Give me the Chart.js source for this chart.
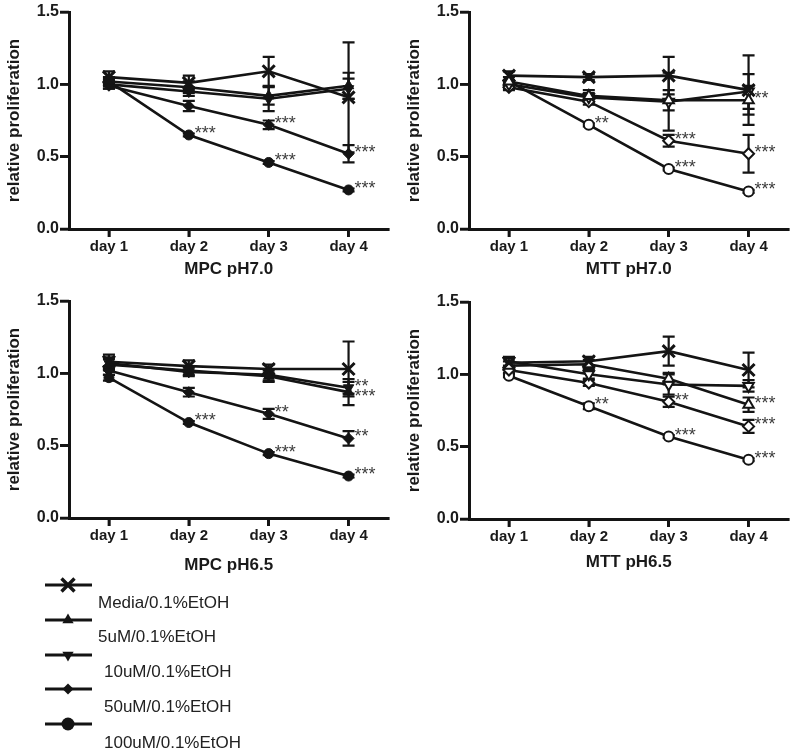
<!DOCTYPE html>
<html><head><meta charset="utf-8">
<script src="https://cdn.jsdelivr.net/npm/chart.js@4/dist/chart.umd.min.js"></script>
<style>
html,body{margin:0;padding:0;background:#fff;}
#wrap{position:relative;width:800px;height:753px;overflow:hidden;background:#fff;}
.panel{position:absolute;width:400px;height:290px;}
.leg{position:absolute;font-family:'Liberation Sans',Arial,sans-serif;font-size:17px;color:#222;white-space:nowrap;line-height:1;}
</style></head><body>
<div id="wrap">
  <div class="panel" style="left:0;top:0"><canvas id="c1" width="400" height="290"></canvas></div>
  <div class="panel" style="left:400px;top:0"><canvas id="c2" width="400" height="290"></canvas></div>
  <div class="panel" style="left:0;top:289px"><canvas id="c3" width="400" height="290"></canvas></div>
  <div class="panel" style="left:400px;top:290px"><canvas id="c4" width="400" height="290"></canvas></div>
  <canvas id="legc" width="140" height="170" style="position:absolute;left:0;top:570px"></canvas>
  <div id="legtext"></div>
</div>
<script>
// ---------- data ----------
const days = ['day 1', 'day 2', 'day 3', 'day 4'];
const seriesNames = ['Media/0.1%EtOH', '5uM/0.1%EtOH', '10uM/0.1%EtOH', '50uM/0.1%EtOH', '100uM/0.1%EtOH'];
const yTickValues = [0, 0.5, 1.0, 1.5];
const panelTitles = ['MPC pH7.0', 'MTT pH7.0', 'MPC pH6.5', 'MTT pH6.5'];
const yAxisTitle = 'relative proliferation';

// MPC pH7.0
const mpc70_media = [1.05, 1.01, 1.09, 0.91];
const mpc70_5uM   = [1.02, 0.98, 0.92, 0.99];
const mpc70_10uM  = [1.00, 0.95, 0.90, 0.97];
const mpc70_50uM  = [0.99, 0.85, 0.72, 0.52];
const mpc70_100uM = [1.02, 0.65, 0.46, 0.27];
const mpc70_err_media = [0.04, 0.05, 0.10, 0.38];
const mpc70_err_5uM   = [0.03, 0.04, 0.06, 0.09];
const mpc70_err_10uM  = [0.03, 0.03, 0.085, 0.07];
const mpc70_err_50uM  = [0.02, 0.035, 0.03, 0.06];
const mpc70_err_100uM = [0.02, 0.01, 0.01, 0.01];
const mpc70_stars = [[1, 4, '***'], [2, 3, '***'], [2, 4, '***'], [3, 3, '***'], [3, 4, '***']];

// MTT pH7.0
const mtt70_media = [1.06, 1.05, 1.06, 0.96];
const mtt70_5uM   = [1.02, 0.92, 0.89, 0.89];
const mtt70_10uM  = [1.00, 0.91, 0.88, 0.95];
const mtt70_50uM  = [0.98, 0.88, 0.61, 0.52];
const mtt70_100uM = [1.02, 0.72, 0.415, 0.26];
const mtt70_err_media = [0.03, 0.02, 0.13, 0.24];
const mtt70_err_5uM   = [0.03, 0.04, 0.07, 0.10];
const mtt70_err_10uM  = [0.03, 0.03, 0.20, 0.12];
const mtt70_err_50uM  = [0.02, 0.02, 0.04, 0.13];
const mtt70_err_100uM = [0.01, 0.01, 0.01, 0.01];
const mtt70_stars = [[1, 4, '**'], [2, 3, '***'], [2, 4, '***'], [3, 1, '**'], [3, 3, '***'], [3, 4, '***']];

// MPC pH6.5
const mpc65_media = [1.08, 1.05, 1.03, 1.03];
const mpc65_5uM   = [1.06, 1.02, 0.98, 0.87];
const mpc65_10uM  = [1.07, 1.01, 0.99, 0.90];
const mpc65_50uM  = [1.02, 0.87, 0.72, 0.55];
const mpc65_100uM = [0.97, 0.66, 0.445, 0.29];
const mpc65_err_media = [0.05, 0.04, 0.03, 0.19];
const mpc65_err_5uM   = [0.04, 0.03, 0.04, 0.09];
const mpc65_err_10uM  = [0.04, 0.03, 0.04, 0.04];
const mpc65_err_50uM  = [0.03, 0.03, 0.035, 0.05];
const mpc65_err_100uM = [0.02, 0.01, 0.01, 0.01];
const mpc65_stars = [[1, 4, '***'], [2, 3, '**'], [2, 4, '***'], [3, 2, '**'], [3, 1, '***'], [3, 3, '**'], [3, 4, '***']];

// MTT pH6.5
const mtt65_media = [1.08, 1.09, 1.16, 1.03];
const mtt65_5uM   = [1.06, 1.07, 0.97, 0.79];
const mtt65_10uM  = [1.09, 1.00, 0.93, 0.92];
const mtt65_50uM  = [1.03, 0.94, 0.81, 0.64];
const mtt65_100uM = [0.99, 0.78, 0.57, 0.41];
const mtt65_err_media = [0.03, 0.03, 0.10, 0.12];
const mtt65_err_5uM   = [0.03, 0.03, 0.04, 0.05];
const mtt65_err_10uM  = [0.03, 0.03, 0.07, 0.04];
const mtt65_err_50uM  = [0.02, 0.02, 0.035, 0.045];
const mtt65_err_100uM = [0.01, 0.02, 0.01, 0.01];
const mtt65_stars = [[1, 4, '**'], [2, 3, '**'], [2, 4, '***'], [3, 1, '***'], [3, 3, '***'], [3, 4, '***']];

// ---------- styling ----------
const INK = '#141414';
const FONT = "'Liberation Sans', Arial, Helvetica, sans-serif";
const markerStyles = [
  {pointStyle: 'crossRot', radius: 8.5, rotation: 0},
  {pointStyle: 'triangle', radius: 6, rotation: 0},
  {pointStyle: 'triangle', radius: 6, rotation: 180},
  {pointStyle: 'rectRot', radius: 5.5, rotation: 0},
  {pointStyle: 'circle', radius: 5, rotation: 0}
];

const panels = [
  {id: 'c1', title: panelTitles[0], open: false, titlePad: 10,
   values: [mpc70_media, mpc70_5uM, mpc70_10uM, mpc70_50uM, mpc70_100uM],
   errors: [mpc70_err_media, mpc70_err_5uM, mpc70_err_10uM, mpc70_err_50uM, mpc70_err_100uM],
   stars: mpc70_stars},
  {id: 'c2', title: panelTitles[1], open: true, titlePad: 10,
   values: [mtt70_media, mtt70_5uM, mtt70_10uM, mtt70_50uM, mtt70_100uM],
   errors: [mtt70_err_media, mtt70_err_5uM, mtt70_err_10uM, mtt70_err_50uM, mtt70_err_100uM],
   stars: mtt70_stars},
  {id: 'c3', title: panelTitles[2], open: false, titlePad: 3,
   values: [mpc65_media, mpc65_5uM, mpc65_10uM, mpc65_50uM, mpc65_100uM],
   errors: [mpc65_err_media, mpc65_err_5uM, mpc65_err_10uM, mpc65_err_50uM, mpc65_err_100uM],
   stars: mpc65_stars},
  {id: 'c4', title: panelTitles[3], open: true, titlePad: 7,
   values: [mtt65_media, mtt65_5uM, mtt65_10uM, mtt65_50uM, mtt65_100uM],
   errors: [mtt65_err_media, mtt65_err_5uM, mtt65_err_10uM, mtt65_err_50uM, mtt65_err_100uM],
   stars: mtt65_stars}
];

// ---------- plugins ----------
const errorBarPlugin = {
  id: 'errorBars',
  beforeDatasetsDraw(chart) {
    const {ctx, scales: {x, y}} = chart;
    ctx.save();
    ctx.strokeStyle = INK;
    ctx.lineWidth = 2.2;
    chart.data.datasets.forEach(ds => {
      const errs = ds.errorValues;
      if (!errs) return;
      ds.data.forEach((v, j) => {
        const e = errs[j];
        if (!e) return;
        const px = x.getPixelForValue(j);
        const top = y.getPixelForValue(v + e);
        const bot = y.getPixelForValue(v - e);
        ctx.beginPath();
        ctx.moveTo(px, top); ctx.lineTo(px, bot);
        ctx.moveTo(px - 6, top); ctx.lineTo(px + 6, top);
        ctx.moveTo(px - 6, bot); ctx.lineTo(px + 6, bot);
        ctx.stroke();
      });
    });
    ctx.restore();
  }
};

// outward tick marks on both axes (drawn from the scales' own positions)
const tickMarkPlugin = {
  id: 'tickMarks',
  afterDraw(chart) {
    const {ctx, chartArea, scales: {x, y}} = chart;
    ctx.save();
    ctx.strokeStyle = INK;
    ctx.lineWidth = 2.6;
    ctx.beginPath();
    days.forEach((d, j) => {
      const px = x.getPixelForValue(j);
      ctx.moveTo(px, chartArea.bottom); ctx.lineTo(px, chartArea.bottom + 8);
    });
    yTickValues.forEach(v => {
      const py = y.getPixelForValue(v);
      ctx.moveTo(chartArea.left, py); ctx.lineTo(chartArea.left - 9, py);
    });
    ctx.stroke();
    ctx.restore();
  }
};

const starPlugin = {
  id: 'stars',
  afterDatasetsDraw(chart, args, opts) {
    const items = opts.items || [];
    const {ctx, scales: {x, y}} = chart;
    ctx.save();
    ctx.fillStyle = '#3c3c3c';
    ctx.font = '18px ' + FONT;
    ctx.textAlign = 'left';
    ctx.textBaseline = 'middle';
    // compute positions, then keep labels of the same day from overlapping
    const placed = items.map(([d, s, txt]) => {
      const v = chart.data.datasets[s].data[d];
      return {d, txt, px: x.getPixelForValue(d) + 6, py: y.getPixelForValue(v) - 1};
    });
    days.forEach((_, d) => {
      const group = placed.filter(p => p.d === d).sort((a, b) => a.py - b.py);
      for (let k = 1; k < group.length; k++) {
        if (group[k].py - group[k - 1].py < 10) group[k].py = group[k - 1].py + 10;
      }
    });
    placed.forEach(p => ctx.fillText(p.txt, p.px, p.py));
    ctx.restore();
  }
};

// ---------- charts ----------
panels.forEach(p => {
  const datasets = p.values.map((vals, i) => ({
    label: seriesNames[i],
    data: vals,
    errorValues: p.errors[i],
    borderColor: INK,
    borderWidth: 2.6,
    tension: 0,
    fill: false,
    pointStyle: markerStyles[i].pointStyle,
    pointRadius: markerStyles[i].radius,
    pointHoverRadius: markerStyles[i].radius,
    pointRotation: markerStyles[i].rotation,
    pointBorderColor: INK,
    pointBackgroundColor: p.open && i > 0 ? '#fff' : INK,
    pointBorderWidth: i === 0 ? 3 : (p.open ? 2 : 1)
  }));
  new Chart(document.getElementById(p.id), {
    type: 'line',
    data: {labels: days, datasets},
    options: {
      responsive: false,
      animation: false,
      events: [],
      layout: {padding: {top: 12, right: 7, left: 0, bottom: 0}},
      plugins: {
        legend: {display: false},
        tooltip: {enabled: false},
        stars: {items: p.stars}
      },
      scales: {
        x: {
          type: 'category',
          offset: true,
          afterFit(scale) { scale.height = 61; },
          grid: {display: true, drawOnChartArea: false, drawTicks: true, tickLength: 8, color: INK, lineWidth: 2.6, offset: false},
          border: {display: true, color: INK, width: 3},
          ticks: {color: '#1a1a1a', font: {family: FONT, size: 15, weight: 'bold'}, padding: 1, maxRotation: 0},
          title: {display: true, text: p.title, color: '#1a1a1a', font: {family: FONT, size: 17, weight: 'bold'}, padding: {top: 0, bottom: p.titlePad}}
        },
        y: {
          min: 0, max: 1.5,
          afterFit(scale) { scale.width = 69; },
          afterBuildTicks(scale) { scale.ticks = yTickValues.map(v => ({value: v})); },
          grid: {display: true, drawOnChartArea: false, drawTicks: true, tickLength: 9, color: INK, lineWidth: 2.6},
          border: {display: true, color: INK, width: 3},
          ticks: {color: '#1a1a1a', font: {family: FONT, size: 16, weight: 'bold'}, padding: 1,
                  callback: v => Number(v).toFixed(1)},
          title: {display: true, text: yAxisTitle, color: '#1a1a1a', font: {family: FONT, size: 17, weight: 'bold'}, padding: {top: 4, bottom: 0}}
        }
      }
    },
    plugins: [errorBarPlugin, starPlugin, tickMarkPlugin]
  });
});

// ---------- legend ----------
(function drawLegend() {
  const cv = document.getElementById('legc');
  const ctx = cv.getContext('2d');
  const rows = [15, 50, 85, 119, 154];
  const cx = 68;
  ctx.strokeStyle = INK;
  ctx.fillStyle = INK;
  rows.forEach((ry, i) => {
    ctx.lineWidth = 2.8;
    ctx.beginPath(); ctx.moveTo(45, ry); ctx.lineTo(92, ry); ctx.stroke();
    ctx.beginPath();
    if (i === 0) {
      ctx.lineWidth = 3.4;
      const r = 6.5;
      ctx.moveTo(cx - r, ry - r); ctx.lineTo(cx + r, ry + r);
      ctx.moveTo(cx + r, ry - r); ctx.lineTo(cx - r, ry + r);
      ctx.stroke();
    } else if (i === 1) {
      const r = 6.5;
      ctx.moveTo(cx, ry - r); ctx.lineTo(cx + r * 0.866, ry + r * 0.5); ctx.lineTo(cx - r * 0.866, ry + r * 0.5); ctx.closePath(); ctx.fill();
    } else if (i === 2) {
      const r = 6.5;
      ctx.moveTo(cx, ry + r); ctx.lineTo(cx + r * 0.866, ry - r * 0.5); ctx.lineTo(cx - r * 0.866, ry - r * 0.5); ctx.closePath(); ctx.fill();
    } else if (i === 3) {
      const r = 5.5;
      ctx.moveTo(cx, ry - r); ctx.lineTo(cx + r, ry); ctx.lineTo(cx, ry + r); ctx.lineTo(cx - r, ry); ctx.closePath(); ctx.fill();
    } else {
      ctx.arc(cx, ry, 6.5, 0, Math.PI * 2); ctx.fill();
    }
  });
  const textPos = [[98, 594], [98, 628], [104, 663], [104, 698], [104, 734]];
  const holder = document.getElementById('legtext');
  seriesNames.forEach((n, i) => {
    const d = document.createElement('div');
    d.className = 'leg';
    d.style.left = textPos[i][0] + 'px';
    d.style.top = textPos[i][1] + 'px';
    d.textContent = n;
    holder.appendChild(d);
  });
})();
</script>
</body></html>
